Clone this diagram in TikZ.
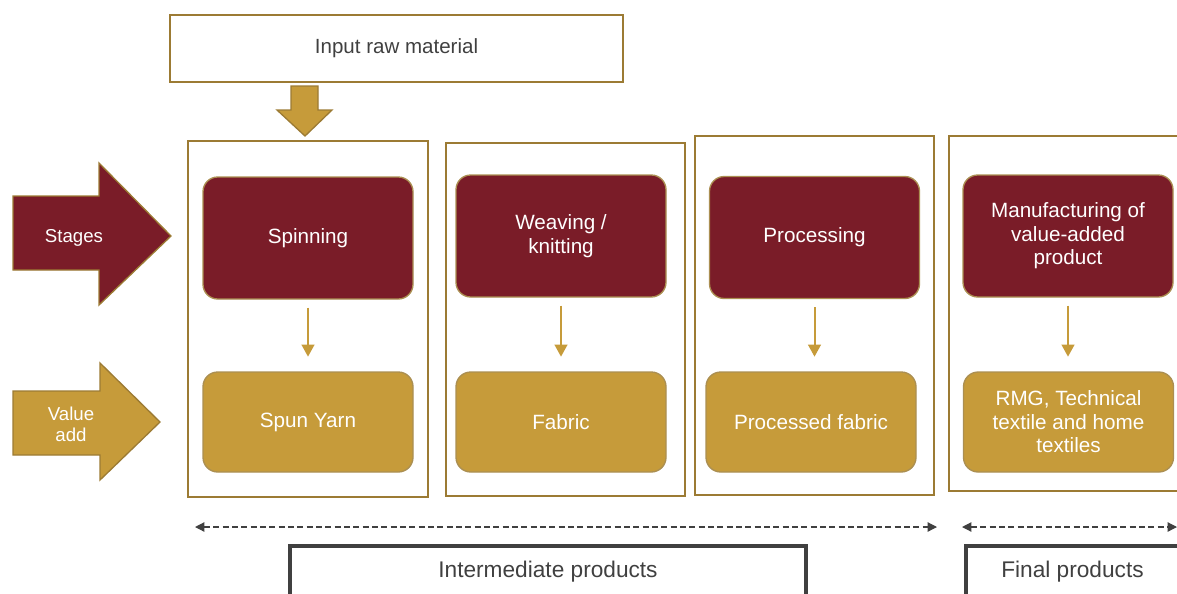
\documentclass[tikz,border=0pt]{standalone}
\usepackage{fontspec}
\setmainfont{Liberation Sans}
\usetikzlibrary{arrows.meta,positioning}

\definecolor{maroon}{HTML}{7A1C28}
\definecolor{gold}{HTML}{C69B3A}
\definecolor{goldline}{HTML}{9C7B34}
\definecolor{darkgrey}{HTML}{404040}

\newlength\px
\setlength\px{0.75pt}

\tikzset{
  inbox/.style={draw=goldline, line width=1.5pt, inner sep=0pt, text=darkgrey,
    minimum width=453\px, minimum height=67\px, font=\fontsize{15.4}{18}\selectfont},
  colframe/.style={draw=goldline, line width=1.5pt, inner sep=0pt, minimum width=240\px},
  stagebox/.style={draw=goldline!85, fill=maroon, rounded corners=11pt, line width=1pt,
    inner sep=0pt, text=white, align=center, minimum width=210\px, minimum height=122\px,
    font=\fontsize{15.5}{17.6}\selectfont},
  valuebox/.style={stagebox, fill=gold, minimum height=100\px},
  blockarrow/.style={draw=goldline, line width=1pt},
  sidetext/.style={text=white, align=center, font=\fontsize{14}{15.8}\selectfont},
  flowarrow/.style={draw=gold, line width=1.5pt, -{Triangle[length=9pt,width=9.5pt]},
    shorten <=6pt, shorten >=11pt},
  spanarrow/.style={draw=darkgrey, line width=0.9pt, dash pattern=on 4.5pt off 2.5pt,
    {Triangle[length=7pt,width=7pt]}-{Triangle[length=7pt,width=7pt]}},
  catbox/.style={draw=darkgrey, line width=2.5pt, inner sep=0pt, text=darkgrey,
    minimum height=52\px, font=\fontsize{17}{20}\selectfont}
}

\begin{document}
\begin{tikzpicture}[x=0.75pt,y=-0.75pt]
\useasboundingbox (0,0) rectangle (1177,593);

% raw material in
\node[inbox] (input) at (396.5,48.5) {\raisebox{-2pt}{Input raw material}};
\draw[blockarrow, fill=gold] (291,86) -- (318,86) -- (318,110) -- (332,110)
  -- (305,136) -- (277,110) -- (291,110) -- cycle;

% side arrows
\draw[blockarrow, fill=maroon] (13,196) -- (99,196) -- (99,163) -- (171,236)
  -- (99,305) -- (99,270) -- (13,270) -- cycle;
\node[sidetext] (stageslbl) at (74,238) {Stages};
\draw[blockarrow, fill=gold] (13,391) -- (100,391) -- (100,363) -- (160,422)
  -- (100,480) -- (100,455) -- (13,455) -- cycle;
\node[sidetext] (valuelbl) at (71,424) {Value\\add};

% columns
\node[colframe, minimum height=356\px] (col1) at (308,319) {};
\node[colframe, minimum width=239\px, minimum height=353\px] (col2) at (565.5,319.5) {};
\node[colframe, minimum width=239\px, minimum height=359\px] (col3) at (814.5,315.5) {};
\node[colframe, minimum width=241\px, minimum height=355\px] (col4) at (1069.5,313.5) {};

\node[stagebox] (stage1) at (308,238) {Spinning};
\node[stagebox] (stage2) at (561,236) {Weaving /\\knitting};
\node[stagebox] (stage3) at (814.5,237.5) {Processing};
\node[stagebox] (stage4) at (1068,236) {Manufacturing of\\value-added\\product};

\node[valuebox] (value1) at (308,422) {Spun Yarn};
\node[valuebox] (value2) at (561,422) {Fabric};
\node[valuebox] (value3) at (811,422) {Processed fabric};
\node[valuebox] (value4) at (1068.5,422) {RMG, Technical\\textile and home\\textiles};

\foreach \i in {1,...,4}
  \draw[flowarrow] (stage\i) -- (stage\i.south |- value\i.north);

% product spans
\coordinate (midL) at (195,527);
\coordinate (midR) at (937,527);
\coordinate (finL) at (962,527);
\coordinate (finR) at (1177,527);
\draw[spanarrow] (midL) -- (midR);
\draw[spanarrow] (finL) -- (finR);

\node[catbox, minimum width=516\px] (inter) at (548,572) {Intermediate products};
\node[catbox, minimum width=213\px] (final) at (1072.5,572) {Final products};
\end{tikzpicture}
\end{document}
